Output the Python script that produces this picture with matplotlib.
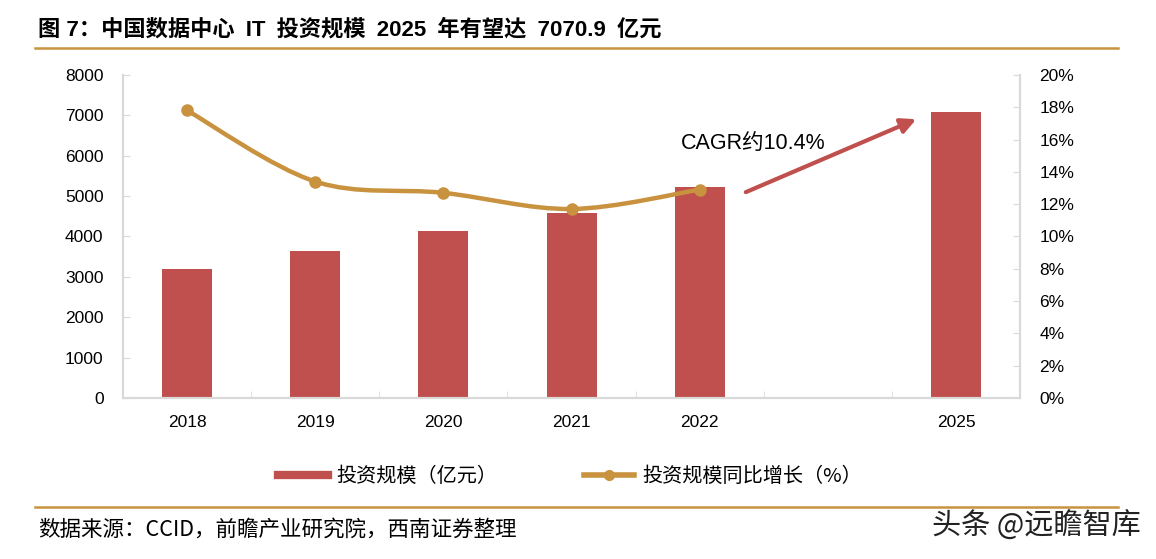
import matplotlib
matplotlib.use("Agg")
import matplotlib.pyplot as plt
import numpy as np
from matplotlib.path import Path
from matplotlib.patches import PathPatch
from matplotlib.lines import Line2D

plt.rcParams['font.family'] = ['Liberation Sans', 'Noto Sans CJK SC', 'DejaVu Sans']

# data
years = ['2018', '2019', '2020', '2021', '2022', '', '2025']
invest = [3200, 3640, 4130, 4580, 5220, None, 7070.9]
growth = [17.8, 13.4, 12.7, 11.7, 12.9]
growth_years = ['2018', '2019', '2020', '2021', '2022']

bar_color = '#C0504D'
line_color = '#C8923F'
spine_color = '#D9D9D9'

fig = plt.figure(figsize=(11.56, 5.59), dpi=100)
ax = fig.add_axes([0.1064, 0.288, 0.776, 0.578])
ax2 = ax.twinx()

x = np.arange(len(years))
bx = [i for i, v in enumerate(invest) if v is not None]
bv = [v for v in invest if v is not None]
ax.bar(bx, bv, width=0.39, color=bar_color, zorder=2)

ax.set_xlim(-0.5, len(years) - 0.5)
ax.set_ylim(0, 8000)
ax.set_yticks(np.arange(0, 8001, 1000))
ax.set_xticks(x)
ax.set_xticklabels(years)
ax.set_xticks(np.arange(0.5, len(years) - 0.5, 1), minor=True)
ax.tick_params(axis='x', which='major', length=0, pad=12, labelsize=12.5)
ax.tick_params(axis='x', which='minor', length=5, direction='in', color=spine_color)
ax.tick_params(axis='y', length=5, direction='in', color=spine_color, labelsize=12.5, pad=14)

ax2.set_ylim(0, 20)
ax2.set_yticks(np.arange(0, 21, 2))
ax2.set_yticklabels([f'{v}%' for v in range(0, 21, 2)])
ax2.tick_params(axis='y', length=5, direction='in', color=spine_color, labelsize=12.5, pad=14)

for a in (ax, ax2):
    a.spines['top'].set_visible(False)
    for s in ('left', 'right', 'bottom'):
        a.spines[s].set_color(spine_color)
        a.spines[s].set_linewidth(1.5)

# smoothed growth line (Excel-style bezier through the data points)
gx = np.array([years.index(y) for y in growth_years], dtype=float)
gy = np.array(growth, dtype=float)
verts = [(gx[0], gy[0])]
codes = [Path.MOVETO]
n = len(gx)
for i in range(n - 1):
    p0 = (gx[max(i - 1, 0)], gy[max(i - 1, 0)])
    p1 = (gx[i], gy[i])
    p2 = (gx[i + 1], gy[i + 1])
    p3 = (gx[min(i + 2, n - 1)], gy[min(i + 2, n - 1)])
    c1 = (p1[0] + (p2[0] - p0[0]) / 6, p1[1] + (p2[1] - p0[1]) / 6)
    c2 = (p2[0] - (p3[0] - p1[0]) / 6, p2[1] - (p3[1] - p1[1]) / 6)
    verts += [c1, c2, p2]
    codes += [Path.CURVE4] * 3
ax2.add_patch(PathPatch(Path(verts, codes), facecolor='none', edgecolor=line_color,
                        lw=3.2, capstyle='round', zorder=3))
ax2.plot(gx, gy, 'o', color=line_color, markersize=8, zorder=4)

# CAGR annotation
ax.annotate('', xy=(5.71, 6930), xytext=(4.34, 5070),
            arrowprops=dict(arrowstyle='-|>,head_length=0.9,head_width=0.45',
                            color=bar_color, lw=3), zorder=5)
ax.text(3.85, 6310, 'CAGR约10.4%', fontsize=15.5, va='center', ha='left',
        family=['Liberation Sans', 'Noto Sans CJK SC'], zorder=5)

# title, rules, legend, source
sp = '\u2002'
title = '图 7：中国数据中心' + sp + 'IT' + sp + '投资规模' + sp + '2025' + sp + '年有望达' + sp + '7070.9' + sp + '亿元'
fig.text(0.033, 0.946, title,
         fontsize=16, fontweight='bold', va='center', ha='left',
         family=['Liberation Sans', 'Noto Sans CJK SC'])
fig.add_artist(Line2D([0.03, 0.967], [0.914, 0.914], color=line_color, lw=1.8))
fig.add_artist(Line2D([0.03, 0.967], [0.093, 0.093], color=line_color, lw=1.8))

h1 = Line2D([], [], color=bar_color, lw=6)
h2 = Line2D([], [], color=line_color, lw=4, marker='o', markersize=7)
fig.legend([h1, h2], ['投资规模（亿元）', '投资规模同比增长（%）'], ncol=2,
           loc='center', bbox_to_anchor=(0.493, 0.148), frameon=False,
           prop={'family': ['Noto Sans CJK SC'], 'size': 14.5},
           handlelength=2.5, columnspacing=4.3, handletextpad=0.4)

fig.text(0.033, 0.052, '数据来源：CCID，前瞻产业研究院，西南证券整理', fontsize=15.5,
         va='center', ha='left', family=['Noto Sans CJK SC'])
fig.text(0.987, 0.057, '头条 @远瞻智库', fontsize=21, va='center', ha='right',
         family=['Noto Sans CJK SC'], color='#222222')

fig.savefig('out.png', dpi=100)
